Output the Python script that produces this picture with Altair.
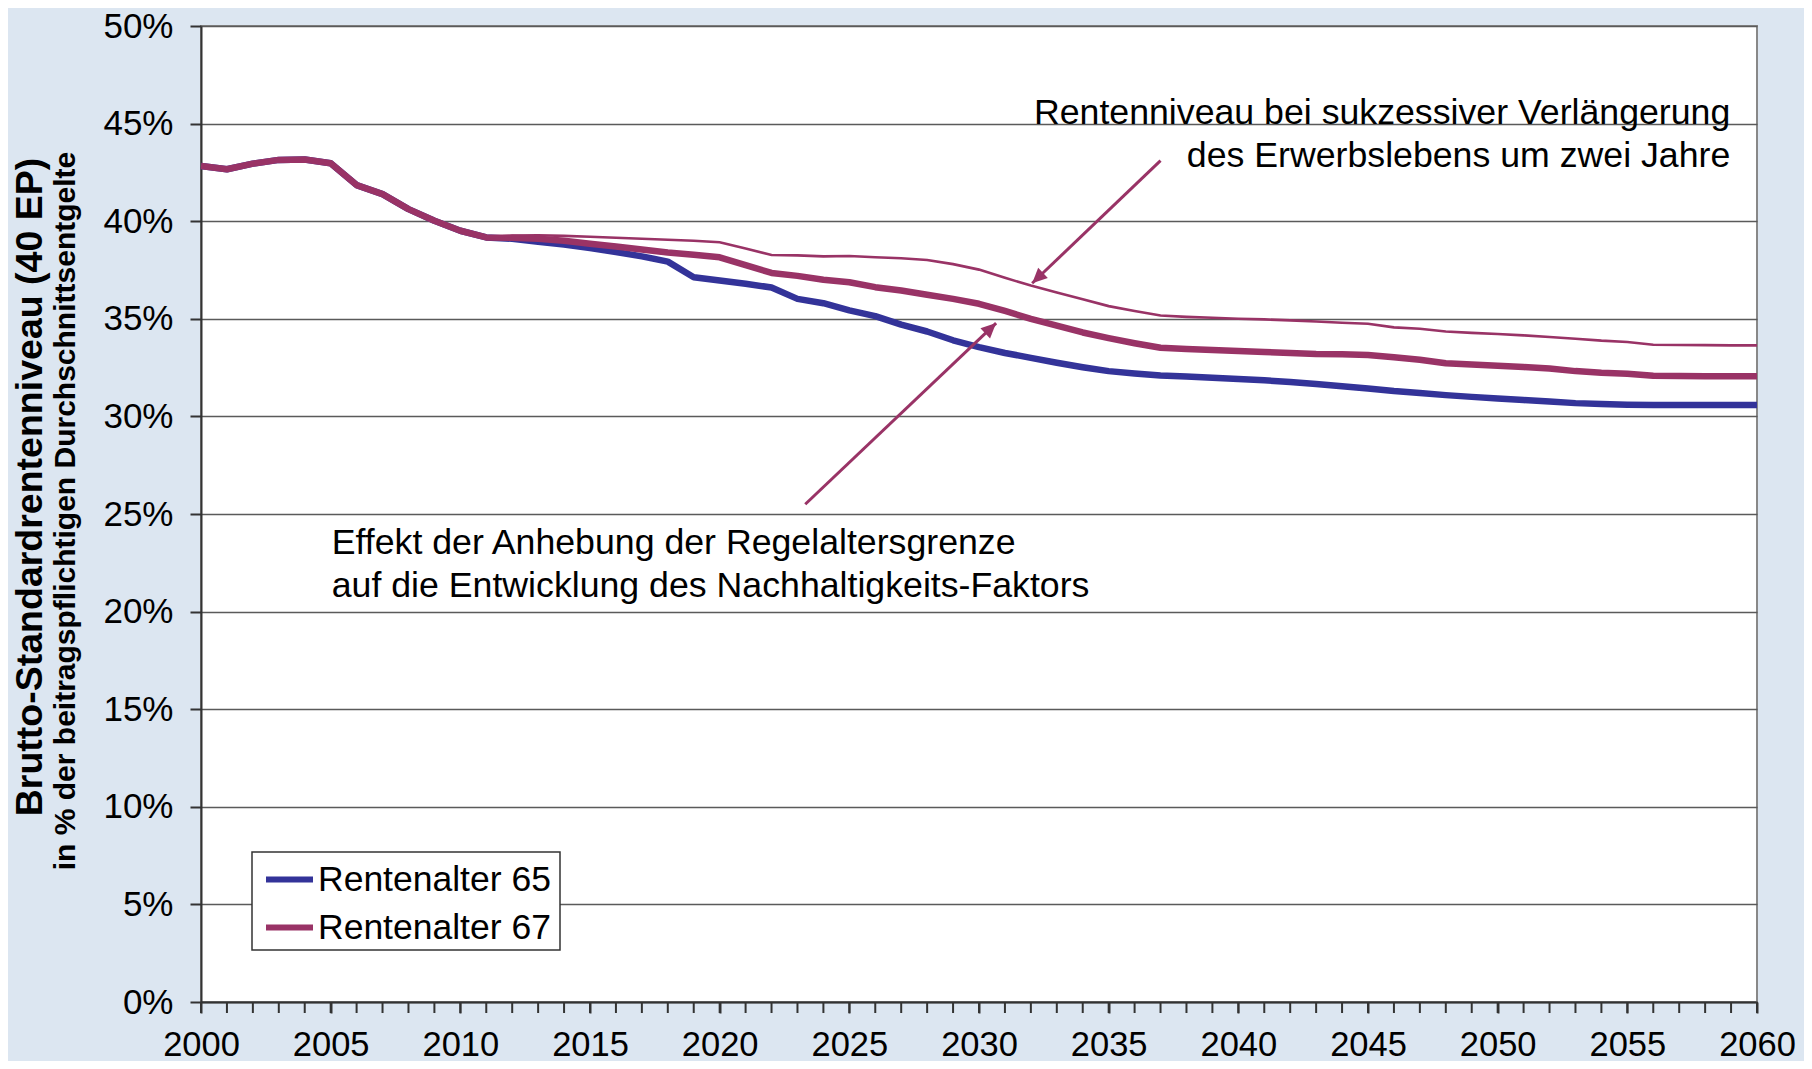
import math
import altair as alt
import pandas as pd

# ---------------- data ----------------
years = list(range(2000, 2061))
label_years = list(range(2000, 2061, 5))

rente_65 = [42.83, 42.66, 42.95, 43.14, 43.16, 42.97, 41.85, 41.39, 40.62, 40.02,
            39.51, 39.17, 39.10, 38.95, 38.80, 38.62, 38.42, 38.20, 37.93, 37.13,
            36.96, 36.80, 36.60, 36.02, 35.80, 35.43, 35.14, 34.70, 34.35, 33.90,
            33.55, 33.25, 33.00, 32.75, 32.52, 32.32, 32.20, 32.10, 32.04, 31.98,
            31.92, 31.85, 31.76, 31.66, 31.55, 31.43, 31.30, 31.20, 31.09, 31.00,
            30.92, 30.84, 30.76, 30.68, 30.63, 30.60, 30.58, 30.58, 30.58, 30.58,
            30.58]

rente_67 = [42.83, 42.66, 42.95, 43.14, 43.16, 42.97, 41.85, 41.39, 40.62, 40.02,
            39.51, 39.17, 39.15, 39.10, 39.00, 38.85, 38.70, 38.55, 38.40, 38.28,
            38.15, 37.75, 37.35, 37.20, 37.00, 36.87, 36.62, 36.45, 36.23, 36.02,
            35.77, 35.40, 35.00, 34.65, 34.30, 34.01, 33.75, 33.52, 33.45, 33.40,
            33.35, 33.30, 33.25, 33.20, 33.18, 33.15, 33.03, 32.90, 32.72, 32.66,
            32.60, 32.53, 32.45, 32.32, 32.24, 32.19, 32.08, 32.07, 32.06, 32.06,
            32.06]

verlaengerung = [42.83, 42.66, 42.95, 43.14, 43.16, 42.97, 41.85, 41.39, 40.62, 40.02,
                 39.51, 39.17, 39.26, 39.28, 39.25, 39.20, 39.15, 39.10, 39.05, 39.00,
                 38.92, 38.60, 38.27, 38.25, 38.20, 38.22, 38.15, 38.10, 38.01, 37.80,
                 37.52, 37.10, 36.70, 36.35, 36.00, 35.65, 35.40, 35.17, 35.10, 35.05,
                 35.00, 34.97, 34.92, 34.86, 34.80, 34.75, 34.56, 34.49, 34.35, 34.28,
                 34.22, 34.15, 34.07, 33.98, 33.88, 33.81, 33.67, 33.66, 33.65, 33.64,
                 33.64]

series_names = ["Rentenalter 65", "Rentenalter 67"]
series_colors = ["#333399", "#993366"]
y_ticks = list(range(0, 55, 5))

arrow_x_start = [2037.0, 2023.3]
arrow_y_start = [43.1, 25.5]
arrow_x_end = [2032.05, 2030.66]
arrow_y_end = [36.82, 34.78]

note_upper = "Rentenniveau bei sukzessiver Verlängerung\ndes Erwerbslebens um zwei Jahre"
note_upper_x = [2058.97]
note_upper_y = [44.96]
note_lower = "Effekt der Anhebung der Regelaltersgrenze\nauf die Entwicklung des Nachhaltigkeits-Faktors"
note_lower_x = [2005.04]
note_lower_y = [22.93]

title_main = "Brutto-Standardrentenniveau (40 EP)"
title_sub = "in % der beitragspflichtigen Durchschnittsentgelte"

# ---------------- layout ----------------
W, H = 1556, 976
FONT = "Liberation Sans"
MAGENTA = "#993366"
AXIS_COLOR = "#333333"
BG = "#dce6f1"

long_df = pd.DataFrame({
    "year": years * 2,
    "value": rente_65 + rente_67,
    "series": [series_names[0]] * len(years) + [series_names[1]] * len(years),
})
thin_df = pd.DataFrame({"year": years, "value": verlaengerung})
year_df = pd.DataFrame({"year": years})

px_x = W / (years[-1] - years[0])
px_y = H / 50.0
angles = [
    math.degrees(math.atan2((xe - xs) * px_x, (ye - ys) * px_y)) % 360
    for xs, ys, xe, ye in zip(arrow_x_start, arrow_y_start, arrow_x_end, arrow_y_end)
]
arrow_df = pd.DataFrame({
    "xs": arrow_x_start, "ys": arrow_y_start,
    "xe": arrow_x_end, "ye": arrow_y_end, "angle": angles,
})

xscale = alt.Scale(domain=[2000, 2060], nice=False, zero=False)
yscale = alt.Scale(domain=[0, 50], nice=False, zero=True)

x_axis = alt.Axis(
    values=label_years, format="d",
    title=None, grid=False, tickSize=11, tickWidth=2, tickColor=AXIS_COLOR,
    domainColor=AXIS_COLOR, domainWidth=2, labelFontSize=34.5, labelFont=FONT,
    labelColor="black", labelPadding=15, labelOverlap=False, labelFlush=False,
)
y_axis = alt.Axis(
    values=y_ticks, labelExpr="datum.value + '%'", title=None, grid=True,
    gridColor="#5a5a5a", gridWidth=1.5, tickSize=11, tickWidth=2,
    tickColor=AXIS_COLOR, domainColor=AXIS_COLOR, domainWidth=2,
    labelFontSize=35, labelFont=FONT, labelColor="black", labelPadding=17,
)

legend_box = alt.Chart(pd.DataFrame({"k": [0]})).mark_rect(
    fill="white", stroke=AXIS_COLOR, strokeWidth=1.5,
).encode(
    x=alt.value(51), x2=alt.value(359), y=alt.value(826), y2=alt.value(924),
)

lines = alt.Chart(long_df).mark_line(strokeWidth=6.5, strokeJoin="round").encode(
    x=alt.X("year:Q", scale=xscale, axis=x_axis),
    y=alt.Y("value:Q", scale=yscale, axis=y_axis),
    color=alt.Color(
        "series:N",
        scale=alt.Scale(domain=series_names, range=series_colors),
        legend=alt.Legend(
            orient="none", legendX=62, legendY=827, title=None,
            symbolType="stroke", symbolSize=2209, symbolStrokeWidth=6,
            labelFontSize=35.5, labelFont=FONT, labelColor="black",
            padding=0, rowPadding=3, labelOffset=2, labelLimit=500,
        ),
    ),
)

minor_ticks = alt.Chart(year_df).mark_rule(strokeWidth=2, color=AXIS_COLOR).encode(
    x=alt.X("year:Q", scale=xscale),
    y=alt.value(H), y2=alt.value(H + 11),
)

thin = alt.Chart(thin_df).mark_line(strokeWidth=2.6, color=MAGENTA).encode(
    x=alt.X("year:Q", scale=xscale),
    y=alt.Y("value:Q", scale=yscale),
)

shafts = alt.Chart(arrow_df).mark_rule(strokeWidth=3, color=MAGENTA).encode(
    x=alt.X("xs:Q", scale=xscale), y=alt.Y("ys:Q", scale=yscale),
    x2="xe:Q", y2="ye:Q",
)
heads = alt.Chart(arrow_df).mark_point(
    shape="M0,0L0.7,1.5L-0.7,1.5Z", filled=True, opacity=1, size=400,
    color=MAGENTA, strokeWidth=0,
).encode(
    x=alt.X("xe:Q", scale=xscale), y=alt.Y("ye:Q", scale=yscale),
    angle=alt.Angle("angle:Q", scale=None),
)

upper_note = alt.Chart(pd.DataFrame({"x": note_upper_x, "y": note_upper_y, "t": [note_upper]})).mark_text(
    align="right", baseline="alphabetic", fontSize=35.7, font=FONT, color="black",
    lineBreak="\n", lineHeight=43,
).encode(x=alt.X("x:Q", scale=xscale), y=alt.Y("y:Q", scale=yscale), text="t:N")

lower_note = alt.Chart(pd.DataFrame({"x": note_lower_x, "y": note_lower_y, "t": [note_lower]})).mark_text(
    align="left", baseline="alphabetic", fontSize=35.7, font=FONT, color="black",
    lineBreak="\n", lineHeight=43,
).encode(x=alt.X("x:Q", scale=xscale), y=alt.Y("y:Q", scale=yscale), text="t:N")

ytitle1 = alt.Chart(pd.DataFrame({"t": [title_main]})).mark_text(
    angle=270, align="center", baseline="alphabetic", fontSize=37.5,
    fontWeight="bold", font=FONT, color="black",
).encode(x=alt.value(-159), y=alt.value(461), text="t:N")

ytitle2 = alt.Chart(pd.DataFrame({"t": [title_sub]})).mark_text(
    angle=270, align="center", baseline="alphabetic", fontSize=30,
    fontWeight="bold", font=FONT, color="black",
).encode(x=alt.value(-126), y=alt.value(485), text="t:N")

chart = alt.layer(
    legend_box, lines, thin, shafts, heads, minor_ticks,
    upper_note, lower_note, ytitle1, ytitle2,
).properties(
    width=W, height=H,
    autosize=alt.AutoSizeParams(type="none"),
    padding={"left": 193, "top": 18, "right": 47, "bottom": 59},
    background=BG,
).configure_view(
    fill="white", stroke="#888888", strokeWidth=2,
)

chart.save("out.html", embed_options={"renderer": "svg", "actions": False})
